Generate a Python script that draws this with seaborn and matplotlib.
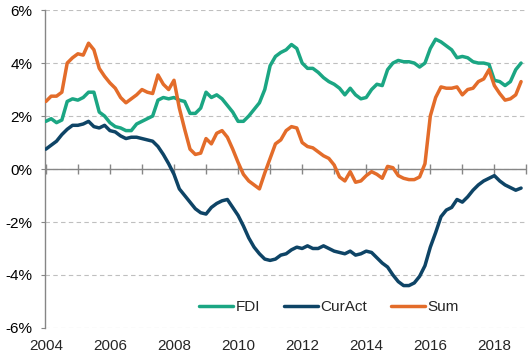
import numpy as np
import pandas as pd
import matplotlib
matplotlib.use("Agg")
import matplotlib.pyplot as plt
from matplotlib.ticker import FuncFormatter, MultipleLocator
import seaborn as sns

# bi-monthly observations, Jan 2004 .. Nov 2018 (% of GDP)
years = 2004 + np.arange(90) / 6.0

fdi = [1.8, 1.9, 1.75, 1.85, 2.55, 2.65, 2.6, 2.7, 2.9, 2.9,
       2.15, 2.0, 1.75, 1.6, 1.55, 1.45, 1.45, 1.7, 1.8, 1.9,
       2.0, 2.6, 2.7, 2.65, 2.7, 2.6, 2.55, 2.1, 2.1, 2.3,
       2.9, 2.7, 2.8, 2.65, 2.4, 2.15, 1.8, 1.8, 2.0, 2.25,
       2.5, 3.0, 3.9, 4.25, 4.4, 4.5, 4.7, 4.55, 4.0, 3.8,
       3.8, 3.65, 3.45, 3.3, 3.2, 3.05, 2.8, 3.05, 2.8, 2.65,
       2.7, 3.0, 3.2, 3.15, 3.75, 4.0, 4.1, 4.05, 4.05, 4.0,
       3.85, 4.0, 4.55, 4.9, 4.8, 4.65, 4.5, 4.2, 4.25, 4.2,
       4.05, 4.0, 4.0, 3.95, 3.35, 3.3, 3.15, 3.3, 3.75, 4.0]

curact = [0.75, 0.9, 1.05, 1.3, 1.5, 1.65, 1.65, 1.7, 1.8, 1.6,
          1.55, 1.65, 1.45, 1.4, 1.25, 1.15, 1.2, 1.2, 1.15, 1.1,
          1.05, 0.85, 0.55, 0.2, -0.2, -0.75, -1.0, -1.25, -1.5, -1.65,
          -1.7, -1.45, -1.3, -1.2, -1.15, -1.45, -1.75, -2.15, -2.6, -2.95,
          -3.2, -3.4, -3.45, -3.4, -3.25, -3.2, -3.05, -2.95, -3.0, -2.9,
          -3.0, -3.0, -2.9, -3.0, -3.1, -3.15, -3.2, -3.1, -3.25, -3.2,
          -3.1, -3.15, -3.35, -3.55, -3.7, -4.0, -4.25, -4.4, -4.4, -4.3,
          -4.05, -3.65, -2.95, -2.4, -1.8, -1.55, -1.45, -1.15, -1.25, -1.05,
          -0.8, -0.6, -0.45, -0.35, -0.25, -0.45, -0.6, -0.7, -0.8, -0.72]

total = [2.55, 2.75, 2.75, 2.9, 4.0, 4.2, 4.35, 4.3, 4.75, 4.5,
         3.8, 3.5, 3.25, 3.05, 2.7, 2.5, 2.65, 2.8, 3.0, 2.9,
         2.85, 3.55, 3.2, 3.0, 3.35, 2.3, 1.5, 0.75, 0.55, 0.6,
         1.15, 0.95, 1.35, 1.45, 1.2, 0.75, 0.25, -0.2, -0.45, -0.6,
         -0.75, -0.15, 0.4, 0.95, 1.1, 1.45, 1.6, 1.55, 1.0, 0.85,
         0.8, 0.65, 0.5, 0.4, 0.15, -0.3, -0.45, -0.1, -0.5, -0.45,
         -0.25, -0.1, -0.2, -0.35, 0.1, 0.05, -0.25, -0.35, -0.4, -0.4,
         -0.3, 0.2, 2.0, 2.7, 3.1, 3.05, 3.05, 3.1, 2.8, 3.0,
         3.05, 3.3, 3.4, 3.75, 3.15, 2.85, 2.6, 2.65, 2.8, 3.3]

series_names = ["FDI", "CurAct", "Sum"]
colors = ["#1BA683", "#0E4466", "#E36C2A"]

df = pd.concat([
    pd.DataFrame({"year": years, "value": vals, "series": name})
    for name, vals in zip(series_names, [fdi, curact, total])
])

sns.set_style("white")
plt.rcParams["font.family"] = ["Liberation Sans", "DejaVu Sans"]

fig = plt.figure(figsize=(5.28, 3.6), dpi=100)
ax = fig.add_axes([0.085, 0.089, 0.912, 0.883])

# solid zero line under the data
ax.axhline(0, color="#868686", linewidth=1.0, zorder=1.6)

sns.lineplot(data=df, x="year", y="value", hue="series",
             palette=dict(zip(series_names, colors)),
             linewidth=2.5, ax=ax, legend=True, zorder=3)

ax.set_xlim(2003.97, 2019.0)
ax.set_ylim(-6, 6)
ax.set_xlabel("")
ax.set_ylabel("")

# y axis: dashed grid, percent labels with plain hyphen
ax.yaxis.set_major_locator(MultipleLocator(2))
ax.yaxis.set_major_formatter(FuncFormatter(lambda v, p: f"{v:.0f}%"))
ax.grid(True, axis="y", color="#BFBFBF", linestyle=(0, (4, 3)), linewidth=0.8)
ax.grid(False, axis="x")
ax.tick_params(axis="y", length=3, color="#868686", labelsize=11,
               labelcolor="black", pad=6, left=True)

# x labels at the bottom, no axis line there
ax.xaxis.set_major_locator(MultipleLocator(2))
ax.xaxis.set_major_formatter(FuncFormatter(lambda v, p: f"{v:.0f}"))
ax.tick_params(axis="x", length=0, labelsize=11, pad=8)

for side in ["top", "right", "bottom"]:
    ax.spines[side].set_visible(False)
ax.spines["left"].set_color("#868686")
ax.spines["left"].set_linewidth(1.0)

# yearly tick marks across the zero line
zero_ax = ax.secondary_xaxis(0.5)
zero_ax.xaxis.set_major_locator(MultipleLocator(1))
zero_ax.tick_params(axis="x", which="both", direction="inout", length=7,
                    width=1.0, color="#868686", bottom=True, top=False,
                    labelbottom=False, labeltop=False)
for sp in zero_ax.spines.values():
    sp.set_visible(False)

leg = ax.legend(loc="center", bbox_to_anchor=(0.59, 0.066), ncol=3,
                frameon=False, fontsize=11, handlelength=2.2,
                columnspacing=1.6, handletextpad=0.15)
for line in leg.get_lines():
    line.set_linewidth(2.5)

fig.savefig("out.png", dpi=100)
